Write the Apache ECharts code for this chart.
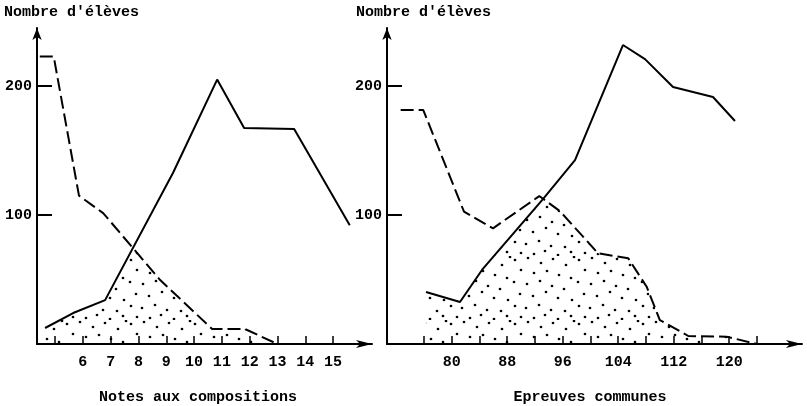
<!DOCTYPE html>
<html>
<head>
<meta charset="utf-8">
<script src="https://cdn.jsdelivr.net/npm/echarts@6/dist/echarts.min.js"></script>
<style>
  html, body { margin: 0; padding: 0; background: #fff; }
  #chart { width: 807px; height: 406px; }
</style>
</head>
<body>
<div id="chart"></div>
<script>
// Notes aux compositions: [note, nombre d'élèves]
const compositionsDashed = [[4.45, 223], [4.95, 223], [5.86, 115], [6.73, 101.5], [8.78, 49.6], [10.65, 11.6], [11.83, 11.6], [13.0, 0]];
const compositionsSolid = [[4.64, 12.4], [5.65, 24], [6.8, 34], [9.24, 132.6], [10.83, 205], [11.8, 167.4], [13.6, 166.7], [15.6, 92]];
const compositionsOverlap = [[4.64, 0], [4.64, 12.4], [5.65, 24], [6.8, 34], [7.8, 74.4], [8.78, 49.6], [10.65, 11.6], [11.83, 11.6], [13.0, 0]];

// Epreuves communes: [points, nombre d'élèves]
const communesDashed = [[72.64, 181.4], [75.9, 181.4], [81.77, 102.6], [85.95, 89.7], [92.62, 114.7], [95.6, 103], [101.1, 70.3], [105.45, 66.4], [108.1, 44.4], [110.0, 18.6], [114.1, 6.2], [119.6, 5.7], [124.0, 0]];
const communesSolid = [[76.29, 40.3], [81.19, 32.6], [84.36, 57.4], [93.15, 112.4], [97.77, 142.6], [104.68, 231.8], [107.86, 220.9], [111.9, 199.2], [117.66, 191.5], [120.83, 172.9]];
const communesOverlap = [[76.29, 0], [76.29, 40.3], [81.19, 32.6], [84.36, 57.4], [93.15, 112.4], [95.6, 103], [101.1, 70.3], [105.45, 66.4], [108.1, 44.4], [110.0, 18.6], [114.1, 6.2], [119.6, 5.7], [124.0, 0]];

// Tick positions and labelled ticks
const yTicks = [100, 200];
const compositionsTicks = [5, 6, 7, 8, 9, 10, 11, 12, 13, 14, 15];
const compositionsLabels = [6, 7, 8, 9, 10, 11, 12, 13, 14, 15];
const communesTicks = [76, 80, 84, 88, 92, 96, 100, 104, 108, 112, 116, 120, 124];
const communesLabels = [80, 88, 96, 104, 112, 120];

const yTitle = "Nombre d'élèves";
const xTitleLeft = 'Notes aux compositions';
const xTitleRight = 'Epreuves communes';

const FONT = 'Liberation Mono';
const TEXT_FONT = 'bold 15px "' + FONT + '"';

// Stippled fill for the overlap between the two distributions (hand-placed dots)
function stipple() {
  const c = document.createElement('canvas');
  c.width = 64; c.height = 64;
  const g = c.getContext('2d');
  g.fillStyle = '#000';
  const dots = [
    [3, 4], [16, 2], [29, 7], [41, 3], [54, 9], [62, 1],
    [9, 14], [22, 17], [35, 15], [47, 19], [59, 22],
    [2, 26], [15, 28], [28, 25], [40, 30], [52, 33],
    [8, 38], [21, 40], [34, 36], [46, 42], [60, 44],
    [3, 50], [14, 52], [27, 49], [39, 54], [53, 55],
    [9, 61], [22, 62], [33, 59], [46, 63], [59, 60]
  ];
  dots.forEach(([x, y]) => { g.beginPath(); g.arc(x, y, 1.35, 0, Math.PI * 2); g.fill(); });
  return c;
}
const dotFill = { image: stipple(), repeat: 'repeat' };

function yAxis(gridIndex) {
  return {
    type: 'value', gridIndex, min: 0, max: 245,
    splitLine: { show: false },
    axisLine: { show: true, symbol: ['none', 'arrow'], symbolSize: [7, 12], lineStyle: { color: '#000', width: 2 } },
    axisTick: { show: true, inside: true, length: 15, customValues: yTicks, lineStyle: { color: '#000', width: 2 } },
    axisLabel: { customValues: yTicks, margin: 5, color: '#000', fontFamily: FONT, fontWeight: 'bold', fontSize: 15 }
  };
}
function xAxis(gridIndex, min, max, ticks, labels) {
  return {
    type: 'value', gridIndex, min, max,
    splitLine: { show: false },
    axisLine: { show: true, onZero: false, symbol: ['none', 'arrow'], symbolSize: [6, 16], lineStyle: { color: '#000', width: 2 } },
    axisTick: { show: true, inside: true, length: 8, customValues: ticks, lineStyle: { color: '#000', width: 1.5 } },
    axisLabel: { customValues: labels, margin: 11, color: '#000', fontFamily: FONT, fontWeight: 'bold', fontSize: 15 }
  };
}
function line(xi, data, dashed) {
  return {
    type: 'line', xAxisIndex: xi, yAxisIndex: xi, data, showSymbol: false, silent: true,
    lineStyle: { color: '#000', width: 2, type: dashed ? [13, 5] : 'solid' }, z: 3
  };
}
function overlap(xi, data) {
  return {
    type: 'line', xAxisIndex: xi, yAxisIndex: xi, data, showSymbol: false, silent: true,
    lineStyle: { width: 0 }, areaStyle: { color: dotFill, opacity: 1 }, z: 1
  };
}

const chart = echarts.init(document.getElementById('chart'), null, { renderer: 'canvas' });
chart.setOption({
  backgroundColor: '#fff',
  animation: false,
  grid: [
    { left: 37, top: 28, width: 335, height: 316 },
    { left: 387, top: 28, width: 415, height: 316 }
  ],
  xAxis: [
    xAxis(0, 4.35, 16.4, compositionsTicks, compositionsLabels),
    xAxis(1, 70.67, 130.49, communesTicks, communesLabels)
  ],
  yAxis: [yAxis(0), yAxis(1)],
  series: [
    overlap(0, compositionsOverlap),
    line(0, compositionsDashed, true),
    line(0, compositionsSolid, false),
    overlap(1, communesOverlap),
    line(1, communesDashed, true),
    line(1, communesSolid, false)
  ],
  graphic: [
    { type: 'text', left: 4, top: 5, style: { text: yTitle, fill: '#000', font: TEXT_FONT } },
    { type: 'text', left: 356, top: 5, style: { text: yTitle, fill: '#000', font: TEXT_FONT } },
    { type: 'text', x: 198, y: 397, style: { text: xTitleLeft, fill: '#000', font: TEXT_FONT, textAlign: 'center', textVerticalAlign: 'middle' } },
    { type: 'text', x: 590, y: 397, style: { text: xTitleRight, fill: '#000', font: TEXT_FONT, textAlign: 'center', textVerticalAlign: 'middle' } }
  ]
});
</script>
</body>
</html>
